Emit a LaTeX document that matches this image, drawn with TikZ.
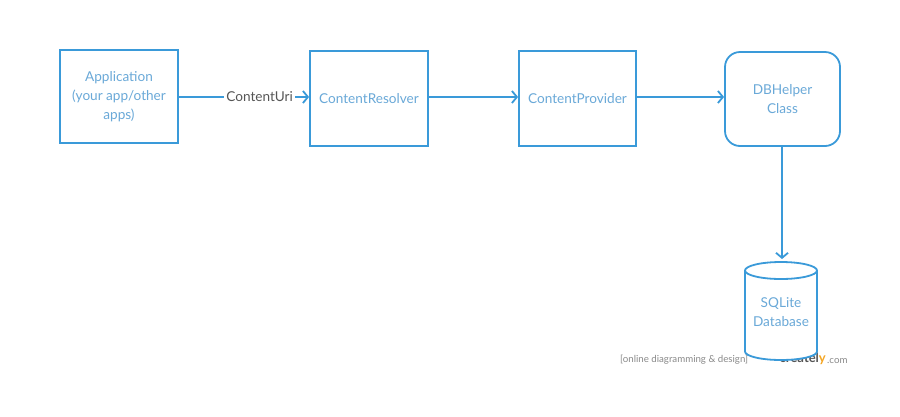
\documentclass[tikz,border=0pt]{standalone}
\usepackage{fontspec}
\setmainfont{Lato}
\usetikzlibrary{arrows.meta}
\definecolor{cblue}{HTML}{3A9AD9}
\definecolor{ctext}{HTML}{6AA9D8}
\definecolor{cgray}{HTML}{555555}
\definecolor{wgray}{HTML}{8A8A8A}
\definecolor{worange}{HTML}{F5A623}
\begin{document}
\begin{tikzpicture}[x=1pt,y=-1pt,
  box/.style={draw=cblue,line width=1.8pt,fill=white,text=ctext,align=center,
    font=\fontsize{13.6}{19}\selectfont,inner sep=0pt,minimum width=118pt,minimum height=95pt},
  rbox/.style={box,rounded corners=15pt,minimum width=115pt,minimum height=94pt},
  conn/.style={draw=cblue,line width=1.8pt,-{Straight Barb[length=5pt,width=12pt,line width=1.8pt]}},
  lbl/.style={text=cgray,font=\fontsize{13.6}{15}\selectfont,fill=white,inner sep=2pt},
  dbtext/.style={text=ctext,align=center,font=\fontsize{13.6}{19}\selectfont,inner sep=0pt,
    minimum width=72pt,minimum height=98pt},
  wm/.style={text=wgray,font=\fontsize{9.7}{11}\selectfont,inner sep=0pt}]
\useasboundingbox[fill=white] (0,0) rectangle (900,416);
% watermark
\node[wm,anchor=west] (wm1) at (620,360) {[online diagramming \& design]};
\node[wm,anchor=east,text=cgray,font=\fontsize{13}{14}\selectfont\bfseries] (wm2) at (826,359) {createl\textcolor{worange}{y}};
\node[wm,anchor=west] (wm3) at (827,361) {.com};
% nodes
\node[box,minimum height=93pt] (app) at (119,96.5) {Application\\(your app/other\\apps)};
\node[box] (res) at (369,98.5) {ContentResolver};
\node[box,minimum width=117pt] (prov) at (577.5,98.5) {ContentProvider};
\node[rbox] (db) at (782.5,99) {DBHelper\\Class};
% cylinder
\draw[cblue,line width=1.8pt,fill=white] (745,270.5) -- (745,351.5) arc[start angle=180,end angle=360,x radius=36pt,y radius=8.5pt] -- (817,270.5);
\draw[cblue,line width=1.8pt,fill=white] (781,270.5) ellipse[x radius=36pt,y radius=8.5pt];
\node[dbtext] (sql) at (781,312) {SQLite\\Database};
% connectors
\draw[conn] (app.east |- 0,97) -- node[lbl,pos=0.62] (uri) {ContentUri} (res.west |- 0,97);
\draw[conn] (res.east |- 0,97) -- (prov.west |- 0,97);
\draw[conn] (prov.east |- 0,97) -- (db.west |- 0,97);
\draw[conn] (db.south -| 782,0) -- (782,259);
\end{tikzpicture}
\end{document}
